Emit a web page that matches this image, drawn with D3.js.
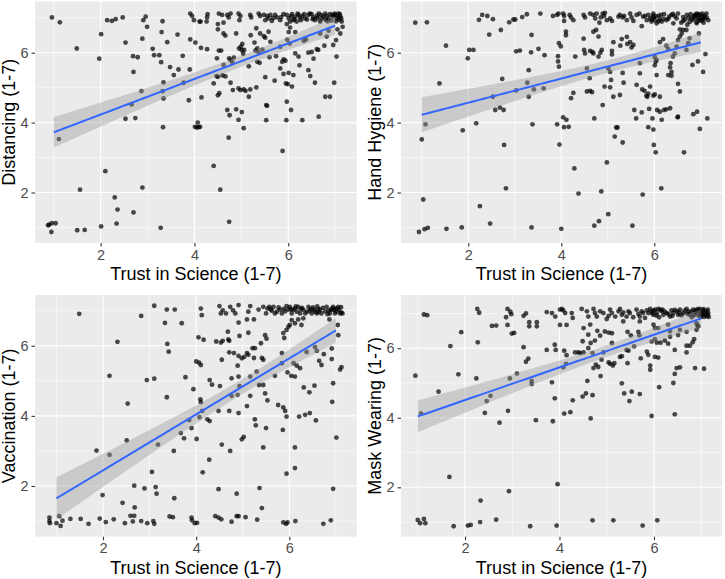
<!DOCTYPE html>
<html>
<head>
<meta charset="utf-8">
<script src="https://cdn.jsdelivr.net/npm/d3@7"></script>
<style>
  html, body { margin: 0; padding: 0; background: #fff; }
  svg { display: block; font-family: "Liberation Sans", Arial, sans-serif; }
</style>
</head>
<body>
<div id="chart"></div>
<script>
// ── Data ([trust, outcome], jittered as plotted) ──
var xTicks = [2, 4, 6];
var yTicks = [2, 4, 6];
var minorTicks = [1, 3, 5, 7];
var scaleRange = [1, 7];   // Likert range the fit is drawn over
var xTitle = "Trust in Science (1-7)";

var distancing = [
  [0.96,7.01],[1.13,6.87],[1.49,6.12],[2.01,6.53],[1.97,5.83],[2.14,6.93],[2.24,6.91],[2.32,6.96],[2.47,7.01],[2.53,6.29],
  [2.69,5.90],[2.79,5.87],[2.70,5.45],[2.89,6.40],[2.91,6.93],[2.96,7.03],[2.99,6.74],[3.11,6.11],[3.14,5.93],[3.25,5.93],
  [3.29,5.73],[3.32,6.90],[3.30,6.59],[3.42,6.30],[3.48,5.59],[3.56,5.36],[3.64,6.52],[3.66,5.52],[3.75,5.91],[3.34,5.15],
  [3.32,4.90],[3.34,4.69],[2.87,4.90],[2.66,4.52],[2.53,4.11],[2.74,4.13],[3.33,3.87],[1.11,3.53],[3.90,5.52],[3.77,5.14],
  [3.88,4.64],[3.91,6.38],[4.02,6.29],[4.11,6.89],
  [2.10,2.61],[1.56,2.08],[2.89,2.14],[2.30,1.86],[2.36,1.51],[2.70,1.43],[2.34,1.11],[2.01,1.03],[3.28,0.99],[1.50,0.92],
  [1.66,0.93],[0.90,1.08],[0.96,1.12],[1.04,1.12],[0.88,1.06],[0.95,0.87],
  [4.01,3.88],[4.05,3.86],[4.09,3.87],[4.07,4.00],[4.12,3.88],
  [4.14,6.14],[4.27,6.10],[4.50,6.82],[4.50,6.67],[4.52,6.06],[4.57,6.06],[4.48,5.84],[4.62,6.55],[4.66,6.49],[4.89,6.55],
  [4.95,6.12],[4.99,6.17],[5.02,6.25],[5.01,6.07],[5.06,6.08],[5.04,5.97],[4.74,5.84],[4.77,5.79],[4.84,5.86],[4.81,5.72],
  [4.62,5.65],[5.16,5.61],[5.28,6.29],[5.20,6.50],[5.32,6.70],[5.40,6.55],[5.48,6.47],[5.51,6.43],[5.58,6.60],[5.62,6.31],
  [5.30,6.06],[5.37,6.01],[5.34,6.12],[5.45,6.09],[5.34,5.74],[5.39,5.71],[5.60,5.87],[5.74,5.90],[5.83,6.17],[5.87,5.74],
  [5.90,5.81],[5.94,5.77],[5.51,5.30],[5.71,5.20],[5.83,5.55],[5.90,5.39],[5.95,5.12],[5.99,5.10],[6.01,5.42],[6.11,5.36],
  [6.08,5.03],[6.22,5.89],[6.24,5.64],[6.15,5.98],[6.33,6.34],[6.38,6.38],[6.43,6.00],[6.50,6.02],[6.54,5.83],[6.61,6.10],
  [6.64,6.08],[6.43,5.50],[6.47,5.33],[6.57,5.14],[6.79,4.74],[6.89,4.74],[6.98,5.14],[7.03,5.89],[6.77,6.20],[6.96,6.22],
  [7.02,6.36],[6.82,6.46],[6.86,6.63],[6.68,6.55],[7.11,6.55],[6.15,6.59],[6.04,6.72],[5.97,6.82],[6.01,6.59],[5.98,6.37],
  [6.03,6.26],[4.41,5.12],[4.47,5.33],[4.50,5.31],[4.60,5.35],[4.66,5.32],[4.77,5.14],[4.82,4.93],[4.94,4.98],[4.98,4.93],
  [5.05,4.95],[5.09,4.91],[5.19,4.95],[5.32,5.01],[5.16,4.74],[4.50,4.78],[4.53,4.84],[4.15,4.72],[4.70,4.36],[4.75,4.21],
  [4.89,4.38],[5.01,4.30],[4.94,4.08],[5.05,3.84],[5.53,4.50],[5.55,4.48],[5.53,4.07],[5.97,4.60],[6.06,4.36],[5.96,4.07],
  [6.30,4.07],[6.65,4.17],[4.73,3.57],[5.88,3.19],[4.41,2.76],[4.55,2.08],[4.74,1.16],
  [3.91,7.12],[3.95,7.05],[3.99,6.93],[4.13,6.89],[4.26,6.89],[4.28,7.10],[4.27,7.01],[4.52,7.12],[4.59,7.08],[4.70,7.08],
  [4.73,7.01],[4.77,7.12],[4.62,6.86],[4.94,7.12],[4.98,7.05],[4.96,6.93],[5.19,7.08],[5.21,7.01],[5.37,7.12],[5.40,7.05],
  [5.48,7.08],[5.51,6.93],[5.55,7.05],[5.58,6.98],[5.62,7.08],[5.65,6.91],[5.72,7.08],[5.76,7.01],[5.83,6.93],[5.90,7.10],
  [5.97,7.08],[6.01,6.98],[6.04,6.89],[6.08,7.10],[6.11,6.93],[6.15,7.03],[6.18,6.89],[6.22,7.08],[6.27,6.93],[6.36,6.98],
  [6.43,7.08],[6.50,7.10],[6.54,7.01],[6.57,6.93],[6.61,7.05],[6.68,6.89],[6.79,7.12],[6.82,7.05],[6.86,6.98],[6.89,7.10],
  [6.96,7.03],[7.00,7.08],[7.04,6.98],[7.07,7.12],[7.11,7.03],[7.14,6.89],[7.16,6.74],[7.05,6.67],
  [6.20,7.12],[6.30,7.05],[6.40,6.95],[6.46,7.12],[6.65,7.12],[6.72,6.98],[6.92,6.92],[6.99,7.12],[7.10,7.10],[7.13,6.98],
  [5.85,7.02],[5.68,6.99],[6.06,7.04],[6.25,7.00],[6.84,6.90],[7.02,6.90],
  [6.52,6.96],[6.63,6.99],[6.75,7.04],[6.80,6.94],[6.94,7.08],[7.06,7.04],[7.09,6.94],[6.70,7.08],[6.34,7.10],[6.13,6.96]
];

var handHygiene = [
  [0.86,6.86],[1.11,6.87],[1.52,6.20],[1.38,5.12],[1.00,3.52],[1.08,3.95],[1.03,1.80],[0.94,0.87],[1.06,0.95],[1.13,0.99],
  [1.53,0.96],[1.86,1.00],[1.99,5.84],[2.02,6.08],[2.11,6.08],[1.88,3.78],[2.17,3.98],[2.23,6.94],[2.30,7.08],[2.41,7.05],
  [2.53,6.96],[2.45,6.52],[2.70,6.65],[2.88,6.87],[2.97,6.95],[3.01,6.95],[3.16,7.02],[3.26,7.10],[3.03,6.04],[3.11,6.06],
  [3.36,6.51],[3.35,6.01],[3.51,6.11],[3.30,5.50],[3.27,5.14],[3.41,4.95],[3.03,4.92],[3.30,4.74],[2.73,5.25],[2.53,4.74],
  [2.58,4.36],[2.68,4.43],[2.76,4.36],[3.38,3.95],[2.77,3.36],[2.81,2.12],[2.25,1.61],[2.47,1.11],[3.36,1.00],
  [3.64,5.93],[3.62,4.98],[3.93,5.90],[3.93,5.75],[3.95,5.60],[3.95,6.27],[3.99,6.18],[4.10,6.60],[4.10,6.50],[4.30,5.89],
  [4.48,6.40],[4.49,6.08],[4.51,5.98],[4.55,5.55],[4.61,5.27],[4.62,6.05],[4.67,6.02],[4.69,5.98],[4.69,6.60],[4.75,6.65],
  [4.80,6.46],[4.84,6.00],[4.87,6.08],[4.80,5.89],[4.55,4.89],[4.62,4.91],[4.66,4.87],[4.26,4.85],[4.21,4.70],[4.89,4.50],
  [4.71,4.12],[4.93,5.03],[5.05,5.01],[5.01,5.55],[5.05,5.45],[5.07,5.22],[5.09,5.95],[5.09,6.05],[5.12,6.30],[5.12,4.74],
  [5.26,4.79],[5.27,6.20],[5.30,6.39],[5.32,5.42],[5.34,5.14],[5.41,6.45],[5.42,6.25],[5.48,6.30],[5.51,6.15],[5.55,6.22],
  [5.69,5.41],[5.69,5.70],[5.62,5.08],[5.74,4.95],[5.79,4.91],[5.83,4.77],[5.85,4.74],[5.87,4.83],[5.91,5.03],[5.98,4.77],
  [6.01,4.81],[6.05,5.36],[6.01,5.64],[6.03,5.74],[6.12,4.74],[6.01,5.87],[6.05,5.79],[6.12,6.30],[6.19,6.39],[6.26,6.20],
  [6.30,6.10],[6.34,5.58],[6.37,5.45],[6.37,5.34],[6.30,5.36],[6.35,5.70],[6.40,5.89],[6.44,5.98],[6.48,6.17],[6.51,6.36],
  [6.55,6.46],[6.59,6.55],[6.62,6.65],[6.51,5.11],[6.55,4.89],[6.69,6.08],[6.73,6.27],[6.76,6.41],[6.82,5.65],[6.94,5.75],
  [7.05,5.45],[7.10,5.96],[6.92,4.31],[6.84,4.24],[7.14,4.12],[6.98,3.82],[5.61,4.12],[5.57,4.36],[5.73,4.29],[5.89,4.39],
  [5.96,4.12],[6.06,4.36],[6.12,4.31],[6.21,4.36],[6.26,4.38],[6.34,4.41],[5.87,3.87],[5.98,3.80],[6.16,4.08],[6.50,4.15],
  [6.51,4.17],[5.18,3.86],[5.21,3.86],[5.15,3.60],[5.32,3.43],[5.99,3.36],[6.03,3.15],[6.64,3.15],[4.04,4.15],[4.11,4.08],
  [4.06,3.87],[4.16,3.88],[3.91,3.95],[3.96,3.37],[4.98,2.86],[4.28,2.69],[4.37,1.97],[4.86,2.03],[5.75,1.94],[6.15,2.12],
  [5.01,1.38],[4.81,1.18],[4.71,1.05],[4.00,0.96],[5.53,1.05],
  [3.55,7.12],[3.82,7.05],[3.91,7.08],[3.94,7.12],[4.04,7.12],[4.06,7.05],[4.06,6.91],[4.18,7.08],[4.21,7.01],[4.26,6.93],
  [4.48,7.08],[4.51,7.01],[4.62,7.12],[4.69,7.08],[4.73,6.98],[4.76,7.12],[4.82,6.86],[4.85,7.01],[4.89,7.12],[4.92,7.05],
  [4.94,7.14],[4.98,6.93],[5.05,6.98],[5.09,6.91],[5.23,7.03],[5.26,7.08],[5.32,7.01],[5.35,7.05],[5.41,6.93],[5.48,7.12],
  [5.51,7.01],[5.55,6.91],[5.62,7.08],[5.68,7.12],[5.73,6.76],[5.76,7.03],[5.84,6.93],[5.87,7.08],[5.91,6.98],[5.94,6.89],
  [5.98,7.12],[5.99,7.01],[6.01,6.93],[6.05,6.84],[6.09,7.05],[6.12,6.95],[6.16,6.89],[6.21,7.10],[6.26,6.93],[6.32,7.03],
  [6.37,7.08],[6.41,6.84],[6.48,6.98],[6.51,7.12],[6.55,6.67],[6.62,6.91],[6.69,6.65],[6.80,6.98],[6.85,7.05],[6.91,7.12],
  [6.94,6.98],[6.98,7.08],[7.01,6.91],[7.05,7.03],[7.12,7.12],[7.16,6.93],[6.91,6.84],[6.96,6.55],
  [6.03,7.04],[5.95,6.95],[6.14,7.08],[6.88,7.08],[7.03,7.12],[7.08,6.98],[6.97,6.94],[5.80,7.05],
  [6.62,7.02],[6.66,6.95],[6.70,7.08],[6.74,7.00],[6.78,7.10],[6.83,6.93],[6.87,7.00],[6.90,7.06],[6.95,7.10],[6.99,7.00],
  [7.04,6.94],[7.08,7.06],[7.13,7.00],[6.44,7.04],[6.30,6.97],[6.20,6.97],[6.58,6.86],[6.76,6.88],[6.92,6.88],[7.06,6.86],
  [5.97,7.06],[6.09,6.90],[6.40,7.11],[6.71,6.80]
];

var vaccination = [
  [1.49,6.91],[2.82,6.85],[3.10,7.14],[3.37,7.03],[3.54,7.03],[3.33,6.65],[3.69,6.64],[3.38,6.05],[3.41,5.83],[2.31,6.11],
  [2.14,5.14],[2.94,5.02],[3.10,5.06],[3.77,5.10],[3.94,4.76],[3.37,4.53],[2.53,4.35],[1.86,3.01],[2.51,3.30],[2.14,2.89],
  [3.18,3.18],[3.52,3.00],[3.67,3.51],[3.74,3.36],[3.90,3.65],[3.85,3.88],[4.01,3.34],[3.05,2.40],[2.67,2.01],[2.89,1.93],
  [3.13,1.97],[3.15,1.78],[1.99,1.74],[2.42,1.52],[2.68,1.39],[3.53,1.65],[0.85,1.10],[0.85,1.00],[0.86,0.94],[1.00,0.94],
  [1.06,1.14],[1.09,0.86],[1.13,1.01],[1.30,1.06],[1.52,1.06],[1.69,0.92],[1.93,1.07],[2.06,0.97],[2.23,1.05],[2.47,0.94],
  [2.59,1.15],[2.67,1.15],[2.64,0.99],[2.82,1.00],[2.95,0.94],[3.08,1.00],[3.10,0.92],[3.43,1.13],[3.50,1.11],[3.90,1.10],
  [3.91,1.02],[3.97,0.94],[4.02,0.95],
  [4.12,6.87],[4.05,6.24],[4.16,6.17],[4.00,5.55],[4.06,5.52],[4.10,5.45],[4.09,4.47],[4.10,4.39],[4.13,4.14],[4.07,3.96],
  [4.24,3.90],[4.29,3.85],[4.43,6.12],[4.53,6.09],[4.57,6.14],[4.68,6.40],[4.71,6.14],[4.69,6.18],[4.55,5.60],[4.71,5.81],
  [4.81,5.79],[4.91,5.71],[4.91,6.66],[4.93,6.28],[4.98,5.64],[5.03,5.68],[5.12,6.37],[5.09,5.79],[5.12,5.74],[5.21,5.93],
  [5.26,5.93],[5.24,5.65],[5.39,6.07],[5.48,6.30],[5.51,6.20],[5.41,5.65],[5.44,5.60],[4.89,5.43],[4.91,5.12],[4.93,4.85],
  [4.76,4.57],[4.89,4.60],[4.91,4.08],[4.29,5.02],[4.34,4.89],[4.51,4.85],[4.76,5.07],[5.16,5.12],[5.09,4.28],[5.16,4.57],
  [5.35,4.88],[5.44,4.88],[5.48,4.64],[5.53,4.44],[5.30,5.26],[5.69,5.14],[5.84,5.79],[5.84,5.50],[5.96,5.24],[6.04,5.14],
  [6.12,5.12],[6.09,5.50],[6.16,5.43],[6.23,5.36],[5.87,6.36],[5.89,6.22],[5.94,6.45],[5.98,6.54],[6.01,6.59],[6.05,6.73],
  [6.12,6.64],[6.19,6.75],[6.26,6.59],[6.31,4.81],[6.43,4.67],[6.54,4.86],[6.37,5.82],[6.55,5.96],[6.59,5.85],[6.64,5.57],
  [6.69,5.45],[6.74,5.76],[6.91,5.92],[6.91,5.62],[6.94,4.93],[6.92,4.40],[7.05,6.30],[7.12,5.39],[7.09,5.32],[7.04,6.59],
  [5.76,4.31],[5.87,4.24],[5.91,4.14],[5.94,3.98],[6.21,3.98],[6.34,4.03],[6.44,4.08],[6.57,3.87],[5.86,3.60],[5.50,3.65],
  [5.26,3.90],[5.28,3.73],[4.71,4.14],[4.48,4.14],[4.98,3.33],[5.02,3.40],[5.44,3.10],[4.55,3.18],[4.73,3.00],[4.28,2.75],
  [4.14,2.39],[6.12,3.10],[6.12,2.51],[5.94,2.35],[7.01,3.38],[6.94,1.92],[4.48,1.91],[4.87,1.78],[5.36,1.94],[5.41,1.37],
  [4.41,1.14],[4.48,1.10],[4.54,1.05],[4.76,0.98],[4.87,1.14],[4.91,1.14],[5.06,1.11],[5.31,1.04],[5.87,0.96],[5.93,0.92],
  [5.96,0.96],[6.13,1.00],[6.73,0.92],[6.89,1.02],
  [4.10,7.06],[4.50,7.13],[4.53,6.92],[4.57,7.01],[4.64,6.92],[4.73,7.11],[4.79,7.01],[4.84,6.92],[4.91,7.16],[5.12,6.97],
  [5.16,7.13],[5.24,6.75],[5.34,7.03],[5.44,7.11],[5.50,6.92],[5.53,7.06],[5.57,7.11],[5.62,7.00],[5.66,7.11],[5.69,6.92],
  [5.73,6.97],[5.80,7.03],[5.84,6.92],[5.94,7.13],[5.98,7.03],[6.01,7.11],[6.05,6.92],[6.12,7.06],[6.16,6.97],[6.19,7.11],
  [6.23,6.92],[6.30,7.03],[6.34,6.92],[6.41,7.11],[6.44,7.00],[6.48,6.92],[6.51,7.09],[6.55,6.97],[6.59,6.92],[6.66,7.03],
  [6.69,6.92],[6.80,7.11],[6.84,7.00],[6.87,6.92],[6.91,7.06],[6.94,7.11],[6.98,6.92],[7.01,6.97],[7.05,7.11],[7.09,6.92],
  [7.12,6.94],[7.14,6.92],[6.86,6.75],[6.30,6.78],[5.09,6.75],
  [6.08,7.02],[6.27,7.08],[6.62,7.04],[6.95,7.02],[7.02,7.06],[5.88,7.05],
  [5.60,7.04],[5.77,7.09],[5.91,6.98],[6.03,7.04],[6.14,7.12],[6.38,6.97],[6.46,7.05],[6.53,7.02],[6.63,6.96],[6.72,7.08],
  [6.77,6.98],[6.89,7.02],[6.97,7.05],[7.07,7.02],[7.11,7.10],[6.82,6.90],[6.60,7.12],[6.25,7.04]
];

var maskWearing = [
  [0.95,5.21],[1.13,6.97],[1.20,6.95],[1.00,1.06],[1.05,0.97],[1.13,1.09],[1.16,0.97],[1.07,4.12],[1.44,4.75],[1.67,2.30],
  [1.76,0.88],[1.69,6.06],[1.86,5.25],[1.92,6.46],[2.06,0.90],[2.12,0.92],[2.24,5.13],[2.26,7.13],[2.30,7.02],[2.27,6.17],
  [2.33,1.62],[2.32,1.00],[2.42,4.14],[2.46,4.48],[2.54,4.63],[2.57,6.64],[2.66,6.65],[2.66,1.07],[2.73,3.86],[2.87,6.89],
  [2.90,7.13],[2.90,6.67],[2.91,4.20],[2.93,1.89],[2.96,7.05],[2.98,6.98],[2.99,6.42],[3.04,6.44],[2.95,5.13],[3.10,5.27],
  [3.24,6.93],[3.29,7.00],[3.24,6.03],[3.29,5.61],[3.34,5.70],[3.36,6.75],[3.36,6.63],[3.41,5.06],[3.41,4.97],[3.38,0.88],
  [3.50,3.93],[3.52,6.75],[3.52,6.63],
  [3.91,6.91],[4.01,6.67],[4.15,6.67],[3.73,5.95],[3.92,5.95],[4.10,5.93],[4.15,5.80],[3.90,6.10],[3.84,5.02],[3.90,4.56],
  [3.86,3.90],[4.08,5.45],[4.14,5.55],[4.10,4.12],[4.23,4.16],[4.28,4.50],[3.96,2.09],[3.94,0.90],[4.33,5.88],[4.40,5.88],
  [4.44,5.86],[4.51,5.88],[4.51,6.58],[4.49,6.20],[4.61,6.39],[4.65,6.68],[4.49,4.61],[4.56,4.70],[4.70,4.65],[4.59,5.06],
  [4.66,3.98],[4.61,6.00],[4.66,6.15],[4.70,5.86],[4.75,6.22],[4.80,6.50],[4.86,6.36],[4.72,5.43],[4.77,5.53],[4.82,5.46],
  [4.87,5.20],[4.89,5.67],[4.93,5.88],[4.96,6.48],[5.04,6.45],[5.11,6.43],[5.04,5.59],[5.07,5.55],[5.13,5.50],[5.16,5.57],
  [5.11,6.15],[5.14,1.05],[4.70,1.05],[5.28,5.75],[5.32,5.77],[5.32,4.99],[5.37,4.70],[5.53,4.75],[5.70,4.68],[5.48,4.48],
  [5.42,5.95],[5.46,5.93],[5.44,5.57],[5.44,6.47],[5.51,6.37],[5.58,6.05],[5.67,6.47],[5.69,6.37],[5.72,5.71],[5.85,5.90],
  [5.88,5.81],[5.92,5.50],[5.92,5.38],[5.95,6.19],[6.02,6.26],[6.06,6.16],[5.99,6.68],[6.02,6.58],[6.02,5.75],[6.09,5.73],
  [6.09,6.58],[6.11,4.88],[5.95,4.05],[5.76,0.90],[6.07,1.05],[6.14,6.16],[6.23,6.22],[6.30,6.13],[6.34,6.33],[6.30,6.68],
  [6.34,6.49],[6.41,5.00],[6.44,5.26],[6.48,5.43],[6.55,5.45],[6.44,5.95],[6.44,4.10],[6.51,6.38],[6.55,6.53],[6.69,5.88],
  [6.69,6.07],[6.69,6.47],[6.76,6.07],[6.82,6.17],[6.85,6.26],[6.87,5.43],[6.90,6.53],[6.92,6.65],[7.06,5.41],
  [3.73,7.04],[3.84,7.01],[4.01,7.11],[4.05,7.13],[4.08,7.09],[4.12,7.01],[4.26,7.01],[4.28,6.87],[4.47,7.13],[4.58,7.06],
  [4.61,6.91],[4.72,7.13],[4.75,7.01],[4.79,6.91],[4.86,7.06],[4.93,7.01],[5.00,6.84],[5.04,6.93],[5.07,7.11],[5.11,7.01],
  [5.18,6.91],[5.25,7.06],[5.28,7.13],[5.32,6.96],[5.35,7.03],[5.42,6.91],[5.46,7.06],[5.49,7.01],[5.56,6.89],[5.63,7.11],
  [5.67,6.99],[5.70,6.91],[5.74,7.06],[5.77,7.01],[5.81,6.87],[5.85,7.09],[5.88,7.01],[5.92,7.13],[5.95,7.06],[5.99,6.96],
  [6.02,7.11],[6.06,7.01],[6.09,7.13],[6.11,6.89],[6.16,7.06],[6.20,6.96],[6.27,7.01],[6.34,6.91],[6.37,7.09],[6.41,7.01],
  [6.48,7.06],[6.51,6.96],[6.55,7.11],[6.62,7.01],[6.69,7.13],[6.73,7.06],[6.76,6.96],[6.80,6.89],[6.83,7.11],[6.87,7.01],
  [6.90,7.06],[6.94,6.94],[6.97,7.13],[7.01,7.01],[7.04,7.09],[7.08,6.96],[7.11,7.06],[7.15,7.01],[6.90,6.72],[6.94,6.63],
  [5.70,6.77],[5.35,6.77],
  [5.96,7.00],[6.00,7.08],[6.05,6.94],[6.13,7.11],[6.96,7.08],[7.05,7.12],[7.12,6.92],[7.14,7.11],[6.99,6.90],
  [6.23,7.05],[6.31,6.98],[6.44,7.10],[6.58,6.95],[6.65,7.08],[6.71,6.99],[6.79,7.05],[6.85,6.95],[6.92,7.12],[7.00,7.06],
  [7.03,6.96],[7.09,7.02],[7.13,6.97],[6.97,6.99],[6.88,7.09],[6.53,7.03],[6.39,6.93],[6.18,7.11],[7.16,6.90],[7.06,6.90]
];

// ── Layout ───────────────────────────────────────────────────
var width = 725, height = 579;
var panels = [
  { title: "Distancing (1-7)",   data: distancing,  left: 35,  top: 1.5, w: 321.7, h: 241.5, xd: [0.60, 7.46], yd: [0.555, 7.465] },
  { title: "Hand Hygiene (1-7)", data: handHygiene, left: 401, top: 1.5, w: 321,   h: 241.5, xd: [0.553, 7.456], yd: [0.555, 7.465] },
  { title: "Vaccination (1-7)",  data: vaccination, left: 35,  top: 295, w: 321.7, h: 241.7, xd: [0.54, 7.446], yd: [0.554, 7.446] },
  { title: "Mask Wearing (1-7)", data: maskWearing, left: 401, top: 295, w: 321,   h: 241.7, xd: [0.645, 7.44], yd: [0.58, 7.53] }
];

var svg = d3.select("#chart").append("svg")
  .attr("width", width).attr("height", height);

// least squares fit with 95% band, like geom_smooth(method = "lm")
function linearFit(data, range) {
  var n = data.length;
  var mx = d3.mean(data, function (d) { return d[0]; });
  var my = d3.mean(data, function (d) { return d[1]; });
  var sxx = d3.sum(data, function (d) { return (d[0] - mx) * (d[0] - mx); });
  var sxy = d3.sum(data, function (d) { return (d[0] - mx) * (d[1] - my); });
  var b = sxy / sxx, a = my - b * mx;
  var sse = d3.sum(data, function (d) { var r = d[1] - (a + b * d[0]); return r * r; });
  var s = Math.sqrt(sse / (n - 2));
  var t = 1.97;
  return d3.range(80).map(function (i) {
    var x = range[0] + (range[1] - range[0]) * i / 79;
    var y = a + b * x;
    var se = s * Math.sqrt(1 / n + (x - mx) * (x - mx) / sxx);
    return { x: x, y: y, lo: y - t * se, hi: y + t * se };
  });
}

panels.forEach(function (p) {
  var x = d3.scaleLinear().domain(p.xd).range([0, p.w]);
  var y = d3.scaleLinear().domain(p.yd).range([p.h, 0]);
  var g = svg.append("g").attr("transform", "translate(" + p.left + "," + p.top + ")");

  g.append("rect").attr("width", p.w).attr("height", p.h).attr("fill", "#EBEBEB");

  // grid
  g.selectAll(".vminor").data(minorTicks).join("line")
    .attr("x1", function (d) { return x(d); }).attr("x2", function (d) { return x(d); })
    .attr("y1", 0).attr("y2", p.h)
    .attr("stroke", "#fff").attr("stroke-width", 0.55);
  g.selectAll(".hminor").data(minorTicks).join("line")
    .attr("y1", function (d) { return y(d); }).attr("y2", function (d) { return y(d); })
    .attr("x1", 0).attr("x2", p.w)
    .attr("stroke", "#fff").attr("stroke-width", 0.55);
  g.selectAll(".vmajor").data(xTicks).join("line")
    .attr("x1", function (d) { return x(d); }).attr("x2", function (d) { return x(d); })
    .attr("y1", 0).attr("y2", p.h)
    .attr("stroke", "#fff").attr("stroke-width", 1.1);
  g.selectAll(".hmajor").data(yTicks).join("line")
    .attr("y1", function (d) { return y(d); }).attr("y2", function (d) { return y(d); })
    .attr("x1", 0).attr("x2", p.w)
    .attr("stroke", "#fff").attr("stroke-width", 1.1);

  // points (jittered as plotted)
  g.append("g").selectAll("circle").data(p.data).join("circle")
    .attr("cx", function (d) { return x(d[0]); })
    .attr("cy", function (d) { return y(d[1]); })
    .attr("r", 2.4)
    .attr("fill", "#000").attr("fill-opacity", 0.7);

  // smooth
  var fit = linearFit(p.data, scaleRange);
  g.append("path").datum(fit)
    .attr("d", d3.area()
      .x(function (d) { return x(d.x); })
      .y0(function (d) { return y(d.lo); })
      .y1(function (d) { return y(d.hi); }))
    .attr("fill", "#999999").attr("fill-opacity", 0.4);
  g.append("path").datum(fit)
    .attr("d", d3.line()
      .x(function (d) { return x(d.x); })
      .y(function (d) { return y(d.y); }))
    .attr("fill", "none").attr("stroke", "#3366FF").attr("stroke-width", 2);

  // axes
  var fmt = d3.format("d");
  var xa = g.append("g").attr("transform", "translate(0," + p.h + ")")
    .call(d3.axisBottom(x).tickValues(xTicks).tickFormat(fmt).tickSize(3.5).tickPadding(3));
  var ya = g.append("g")
    .call(d3.axisLeft(y).tickValues(yTicks).tickFormat(fmt).tickSize(3.5).tickPadding(3));
  [xa, ya].forEach(function (a) {
    a.select(".domain").remove();
    a.selectAll("line").attr("stroke", "#333333").attr("stroke-width", 1.1);
    a.selectAll("text").attr("fill", "#4D4D4D").attr("font-size", 14.5)
      .attr("font-family", "Liberation Sans, Arial, sans-serif");
  });

  g.append("text")
    .attr("x", p.w / 2).attr("y", p.h + 37)
    .attr("text-anchor", "middle").attr("font-size", 18).attr("fill", "#000")
    .text(xTitle);
  g.append("text")
    .attr("transform", "translate(" + (-20) + "," + (p.h / 2) + ") rotate(-90)")
    .attr("text-anchor", "middle").attr("font-size", 18).attr("fill", "#000")
    .text(p.title);
});
</script>
</body>
</html>
